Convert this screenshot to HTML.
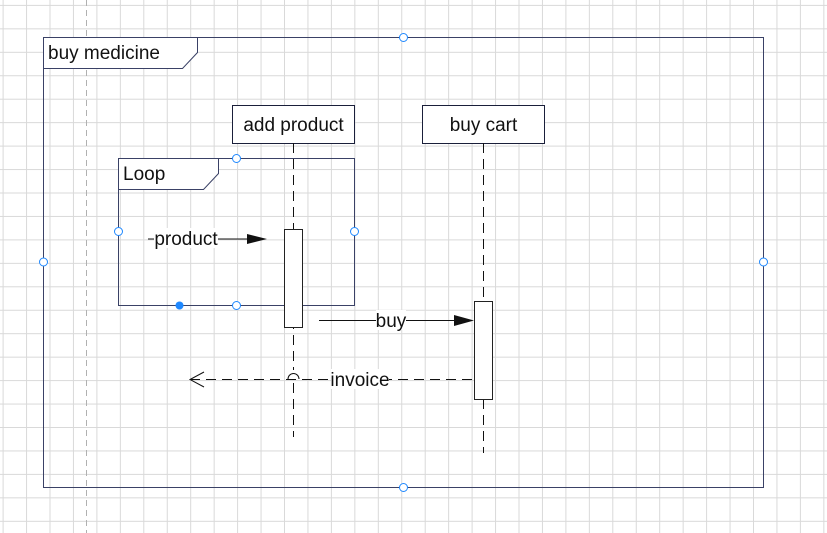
<!DOCTYPE html>
<html><head><meta charset="utf-8"><style>
html,body{margin:0;padding:0;background:#fff;}
svg{display:block;font-family:"Liberation Sans",sans-serif;}
</style></head><body>
<svg width="827" height="533" viewBox="0 0 827 533" xmlns="http://www.w3.org/2000/svg">
<defs>
<pattern id="g" x="2.6" y="4.9" width="23.45" height="23.45" patternUnits="userSpaceOnUse">
<path d="M0 0.5H23.45M0.5 0V23.45" stroke="#d9d9d9" stroke-width="1" fill="none"/>
</pattern>
</defs>
<rect width="827" height="533" fill="url(#g)"/>
<line x1="86.5" y1="0" x2="86.5" y2="533" stroke="#b0b0b0" stroke-dasharray="6,4"/>
<rect x="43.5" y="37.5" width="720" height="450" fill="none" stroke="#3a4166" stroke-width="1"/>
<path d="M43.5 37.5H197.5V52.5L182.5 68.5H43.5Z" fill="#fff" stroke="#3a4166"/>
<text x="48" y="59" font-size="19" fill="#111">buy medicine</text>
<rect x="232.5" y="105.5" width="122" height="38" fill="#fff" stroke="#1a1f3a"/>
<text x="293.5" y="131" font-size="19" text-anchor="middle" fill="#111">add product</text>
<rect x="422.5" y="105.5" width="122" height="38" fill="#fff" stroke="#1a1f3a"/>
<text x="483.5" y="131" font-size="19" text-anchor="middle" fill="#111">buy cart</text>
<line x1="293.5" y1="143" x2="293.5" y2="437" stroke="#111" stroke-dasharray="10,6"/>
<line x1="483.5" y1="143" x2="483.5" y2="453" stroke="#111" stroke-dasharray="10,6"/>
<rect x="118.5" y="158.5" width="236" height="147" fill="none" stroke="#3a4166"/>
<path d="M118.5 158.5H218.5V173.5L203.5 189.5H118.5Z" fill="#fff" stroke="#3a4166"/>
<text x="123" y="180" font-size="19" fill="#111">Loop</text>
<rect x="284.5" y="229.5" width="18" height="98" fill="#fff" stroke="#222"/>
<rect x="474.5" y="301.5" width="18" height="98" fill="#fff" stroke="#222"/>
<line x1="148" y1="239" x2="250" y2="239" stroke="#111"/>
<path d="M247 234L267 239L247 244Z" fill="#111"/>
<rect x="154" y="228" width="64" height="20" fill="#fff"/>
<text x="186" y="245" font-size="19" text-anchor="middle" fill="#111">product</text>
<line x1="319" y1="320.5" x2="458" y2="320.5" stroke="#111"/>
<path d="M454 315L474 320.5L454 326Z" fill="#111"/>
<rect x="376" y="310" width="30" height="20" fill="#fff"/>
<text x="391" y="327" font-size="19" text-anchor="middle" fill="#111">buy</text>
<line x1="190" y1="379.5" x2="474" y2="379.5" stroke="#111" stroke-dasharray="10,6"/>
<path d="M204 372L190 379.5L204 387" fill="none" stroke="#111"/>
<rect x="288" y="370" width="11" height="9" fill="#fff"/>
<path d="M288 379A5.5 5.5 0 0 1 299 379" fill="none" stroke="#111"/>
<rect x="331" y="369" width="58" height="20" fill="#fff"/>
<text x="360" y="386" font-size="19" text-anchor="middle" fill="#111">invoice</text>
<g fill="#fff" stroke="#1e88ff" stroke-width="1">
<circle cx="403.5" cy="37.5" r="4"/><circle cx="43.5" cy="262" r="4"/>
<circle cx="763.5" cy="262" r="4"/><circle cx="403.5" cy="487.5" r="4"/>
<circle cx="236.5" cy="158.5" r="4"/><circle cx="118.5" cy="231.5" r="4"/>
<circle cx="354.5" cy="231.5" r="4"/><circle cx="236.5" cy="305.5" r="4"/>
</g>
<circle cx="179.5" cy="305.5" r="4" fill="#1e88ff"/>
</svg>
</body></html>
